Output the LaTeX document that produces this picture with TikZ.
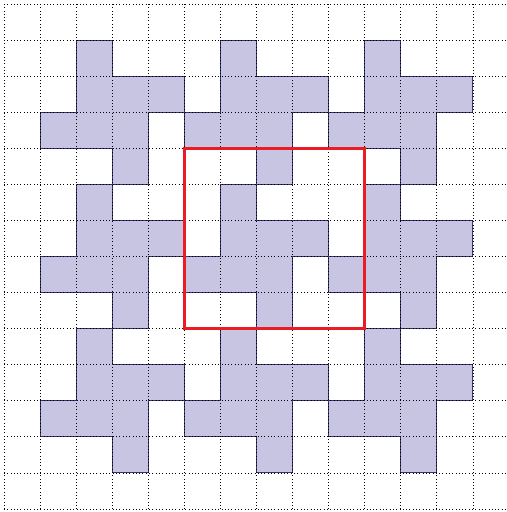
\documentclass[tikz,border=0pt]{standalone}
\usepackage{tikz}
\definecolor{tilefill}{RGB}{199, 197, 226}
\definecolor{tileedge}{RGB}{52, 50, 112}
\definecolor{framered}{RGB}{236, 28, 36}

\begin{document}
\begin{tikzpicture}[
  tile/.style={fill=tilefill, draw=tileedge, line width=0.8pt},
  gridline/.style={draw=black, dotted, line width=0.6pt},
  window/.style={draw=framered, line width=2.4pt}
]
  \useasboundingbox (-0.111, -0.083) rectangle (13.917, 14.111);
  \clip (-0.111, -0.083) rectangle (13.917, 14.111);

  % Tiles
  \foreach \cx in {1, 5, 9} {
    \foreach \ry in {1, 5, 9} {
      \begin{scope}[shift={(\cx, 14-\ry)}]
        \draw[tile] (1,0) -- (2,0) -- (2,-1) -- (4,-1) -- (4,-2) -- (3,-2)
          -- (3,-4) -- (2,-4) -- (2,-3) -- (0,-3) -- (0,-2) -- (1,-2) -- cycle;
      \end{scope}
    }
  }

  % Grid
  \draw[gridline] (0, 0) grid (14, 14);

  % Frame
  \draw[window] (5, 5) rectangle (10, 10);
\end{tikzpicture}
\end{document}
